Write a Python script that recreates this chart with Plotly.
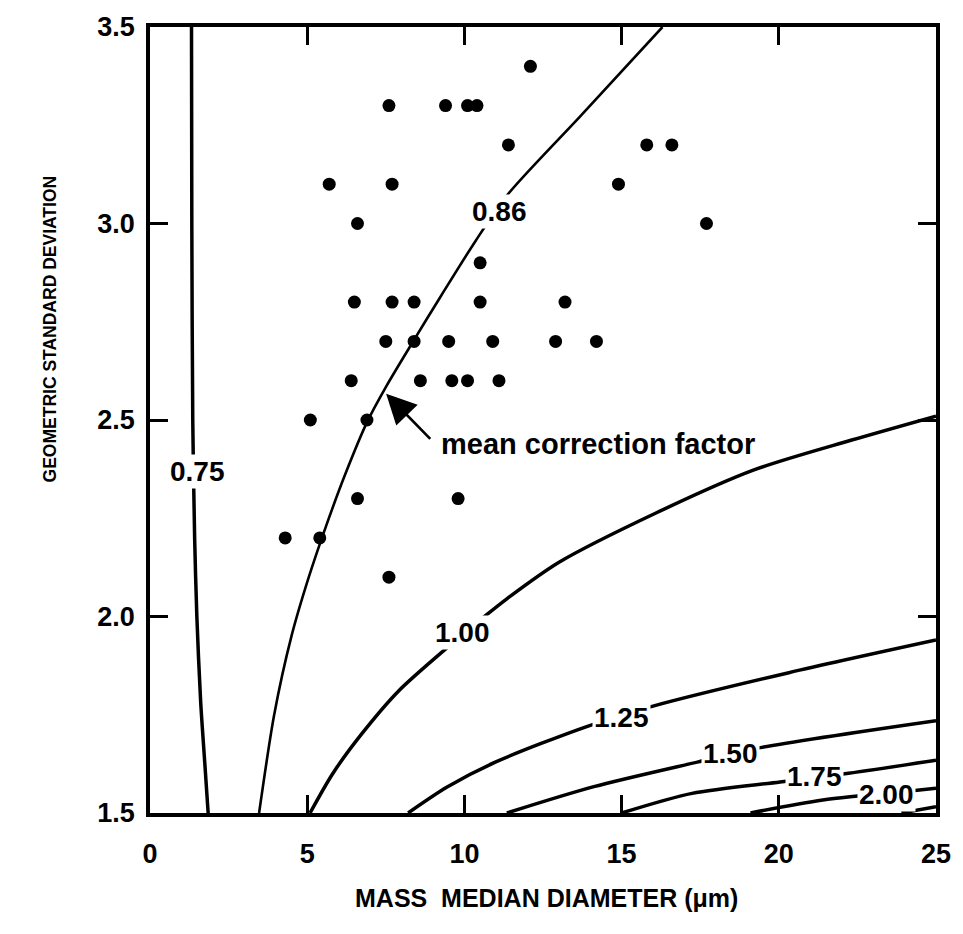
import plotly.graph_objects as go

# ---- measured data points (mass median diameter, geometric std dev) ----
pts_x = [12.1,
         7.6, 9.4, 10.1, 10.4,
         11.4, 15.8, 16.6,
         5.7, 7.7, 14.9,
         6.6, 17.7,
         10.5,
         6.5, 7.7, 8.4, 10.5, 13.2,
         7.5, 8.4, 9.5, 10.9, 12.9, 14.2,
         6.4, 8.6, 9.6, 10.1, 11.1,
         5.1, 6.9,
         6.6, 9.8,
         4.3, 5.4,
         7.6]
pts_y = [3.4,
         3.3, 3.3, 3.3, 3.3,
         3.2, 3.2, 3.2,
         3.1, 3.1, 3.1,
         3.0, 3.0,
         2.9,
         2.8, 2.8, 2.8, 2.8, 2.8,
         2.7, 2.7, 2.7, 2.7, 2.7, 2.7,
         2.6, 2.6, 2.6, 2.6, 2.6,
         2.5, 2.5,
         2.3, 2.3,
         2.2, 2.2,
         2.1]

# ---- iso-correction-factor curves ----
c075_x = [1.32, 1.33, 1.36, 1.42, 1.49, 1.61, 1.74, 1.85]
c075_y = [3.50, 3.00, 2.50, 2.20, 2.00, 1.785, 1.63, 1.50]

c086_x = [3.47, 3.95, 4.50, 5.05, 5.60, 6.20, 6.90, 7.51, 8.37, 9.25, 10.35, 11.35, 13.69, 16.3]
c086_y = [1.50, 1.75, 1.95, 2.10, 2.23, 2.36, 2.494, 2.585, 2.70, 2.815, 2.955, 3.071, 3.273, 3.50]

c100_x = [5.09, 5.81, 6.72, 7.90, 9.50, 10.70, 11.35, 13.01, 16.11, 19.21, 22.32, 25.0]
c100_y = [1.50, 1.60, 1.70, 1.81, 1.924, 2.004, 2.045, 2.138, 2.264, 2.373, 2.449, 2.51]

c125_x = [8.21, 9.45, 11.0, 13.89, 16.0, 20.32, 25.0]
c125_y = [1.50, 1.566, 1.63, 1.72, 1.772, 1.857, 1.94]

c150_x = [11.35, 14.12, 17.44, 19.46, 25.0]
c150_y = [1.50, 1.567, 1.63, 1.667, 1.735]

c175_x = [15.0, 17.24, 20.04, 22.22, 25.0]
c175_y = [1.50, 1.55, 1.579, 1.601, 1.634]

c200_x = [19.1, 21.4, 24.4, 25.0]
c200_y = [1.50, 1.533, 1.558, 1.563]

c225_x = [23.9, 25.0]
c225_y = [1.50, 1.516]

curve_labels = ["0.75", "0.86", "1.00", "1.25", "1.50", "1.75", "2.00"]
label_x = [1.50, 11.13, 9.93, 15.0, 18.47, 21.12, 23.43]
label_y = [2.37, 3.031, 1.960, 1.743, 1.652, 1.593, 1.548]

x_ticks = [0, 5, 10, 15, 20, 25]
y_ticks = [1.5, 2.0, 2.5, 3.0, 3.5]

fig = go.Figure()

curves = [(c075_x, c075_y, 3.5), (c086_x, c086_y, 2.6), (c100_x, c100_y, 3.5),
          (c125_x, c125_y, 3.5), (c150_x, c150_y, 3.5), (c175_x, c175_y, 3.5),
          (c200_x, c200_y, 3.5), (c225_x, c225_y, 3.5)]
for cx, cy, w in curves:
    fig.add_trace(go.Scatter(x=cx, y=cy, mode="lines",
                             line=dict(color="black", width=w, shape="spline", smoothing=0.8),
                             hoverinfo="skip"))

fig.add_trace(go.Scatter(x=pts_x, y=pts_y, mode="markers",
                         marker=dict(color="black", size=13)))

font_b = "Liberation Sans, Arial, sans-serif"

for t, lx, ly in zip(curve_labels, label_x, label_y):
    fig.add_annotation(x=lx, y=ly, xref="x", yref="y", text="<b>" + t + "</b>",
                       showarrow=False, bgcolor="white", borderpad=1,
                       font=dict(family=font_b, size=28, color="black"))

# arrow to the mean correction factor curve
fig.add_annotation(x=7.51, y=2.567, ax=8.96, ay=2.448, xref="x", yref="y",
                   axref="x", ayref="y", text="", showarrow=True,
                   arrowhead=2, arrowsize=2.3, arrowwidth=2.6, arrowcolor="black")
fig.add_annotation(x=9.18, y=2.438, xref="x", yref="y", xanchor="left",
                   text="<b>mean correction factor</b>", showarrow=False,
                   font=dict(family=font_b, size=29, color="black"))

# axis titles
fig.add_annotation(x=(554 - 150) / 801, y=(813 - 915) / 793, xref="paper", yref="paper",
                   text="<b>MASS  MEDIAN DIAMETER (μm)</b>", showarrow=False,
                   font=dict(family=font_b, size=25, color="black"))
fig.add_annotation(x=(36 - 150) / 801, y=(813 - 325) / 793, xref="paper", yref="paper",
                   text="<b>GEOMETRIC STANDARD DEVIATION</b>", showarrow=False, textangle=-90,
                   font=dict(family=font_b, size=17.5, color="black"))

axis_common = dict(showgrid=False, zeroline=False, showline=True, linecolor="black",
                   linewidth=3.5, mirror="allticks", ticks="inside", ticklen=18,
                   tickwidth=3, tickcolor="black",
                   tickfont=dict(family=font_b, size=27, color="black", weight="bold"))

fig.update_xaxes(range=[0, 25], tickvals=x_ticks, ticktext=[str(v) for v in x_ticks],
                 ticklabelstandoff=14, **axis_common)
fig.update_yaxes(range=[1.5, 3.5], tickvals=y_ticks, ticktext=["%.1f" % v for v in y_ticks],
                 ticklabelstandoff=6, **axis_common)

fig.update_layout(width=963, height=934, showlegend=False,
                  margin=dict(l=150, r=12, t=20, b=121),
                  paper_bgcolor="white", plot_bgcolor="white")

fig.write_html("out.html")
